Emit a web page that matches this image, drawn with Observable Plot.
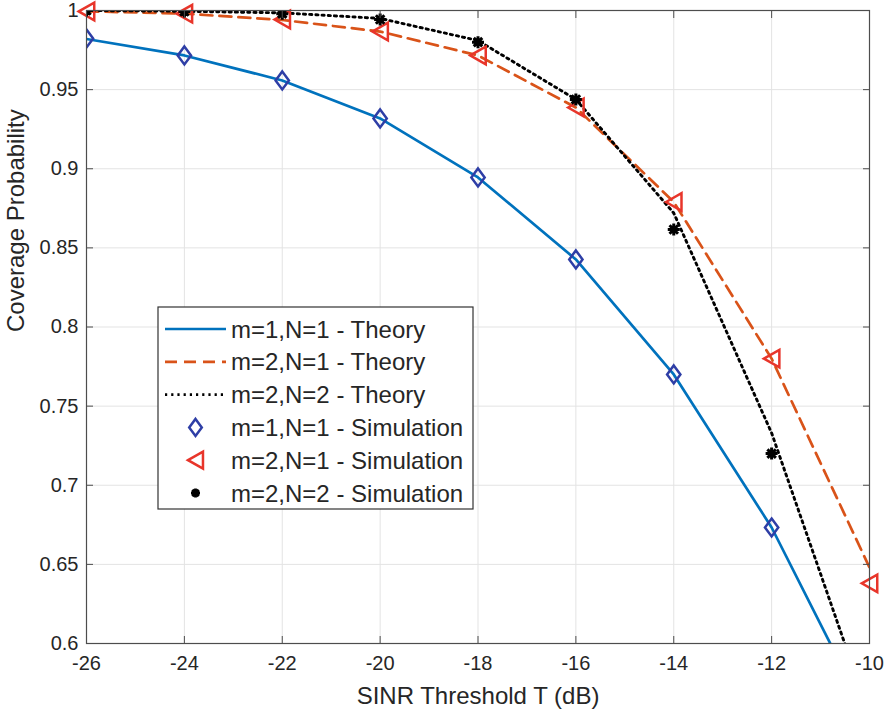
<!DOCTYPE html>
<html>
<head>
<meta charset="utf-8">
<script src="https://cdn.jsdelivr.net/npm/d3@7"></script>
<script src="https://cdn.jsdelivr.net/npm/@observablehq/plot@0.6"></script>
<style>
  html, body { margin: 0; padding: 0; background: #fff; }
  #chart { position: relative; width: 886px; height: 712px; }
</style>
</head>
<body>
<div id="chart"></div>
<script>
// ---- data ----
const thresholds = [-26, -24, -22, -20, -18, -16, -14, -12, -10];
const theory11 = [0.982, 0.9716, 0.9558, 0.9318, 0.8945, 0.8427, 0.770, 0.6733, 0.551];
const theory21 = [0.9995, 0.998, 0.994, 0.9867, 0.9716, 0.9387, 0.879, 0.780, 0.648];
const theory22 = [1.0, 0.9995, 0.9985, 0.995, 0.981, 0.9438, 0.872, 0.733, 0.555];
const sim11 = [0.9823, 0.9716, 0.9558, 0.9318, 0.8945, 0.8427, 0.770, 0.6733, null];
const sim21 = [0.9994, 0.998, 0.9943, 0.9867, 0.9716, 0.9387, 0.879, 0.780, 0.638];
const sim22 = [1.0, 0.9994, 0.998, 0.9943, 0.980, 0.9438, 0.8616, 0.720, null];
const xTicks = [-26, -24, -22, -20, -18, -16, -14, -12, -10];
const yTicks = [0.6, 0.65, 0.7, 0.75, 0.8, 0.85, 0.9, 0.95, 1];
const seriesNames = ["m=1,N=1 - Theory", "m=2,N=1 - Theory", "m=2,N=2 - Theory",
                     "m=1,N=1 - Simulation", "m=2,N=1 - Simulation", "m=2,N=2 - Simulation"];
const xLabel = "SINR Threshold T (dB)";
const yLabel = "Coverage Probability";

// ---- styles ----
const C_BLUE = "#0072BD", C_ORANGE = "#D95319", C_BLACK = "#000000";
const C_DIAMOND = "#2E3EA6", C_TRI = "#E8352A";
const FONT = "'Liberation Sans', Arial, Helvetica, sans-serif";
const DOT_DASH = "2.2,4";
const DASH = "12,7";

// custom MATLAB-like marker symbols
const diamondSym = { draw(ctx, size) { const r = Math.sqrt(size / Math.PI); const w = r * 0.74;
  ctx.moveTo(0, -r); ctx.lineTo(w, 0); ctx.lineTo(0, r); ctx.lineTo(-w, 0); ctx.closePath(); } };
const triLeftSym = { draw(ctx, size) { const r = Math.sqrt(size / Math.PI); const w = r * 0.88;
  ctx.moveTo(-w, 0); ctx.lineTo(w, -r); ctx.lineTo(w, r); ctx.closePath(); } };
const starSym = { draw(ctx, size) { const r = Math.sqrt(size / Math.PI); const d = r * Math.SQRT1_2;
  ctx.moveTo(-r, 0); ctx.lineTo(r, 0); ctx.moveTo(0, -r); ctx.lineTo(0, r);
  ctx.moveTo(-d, -d); ctx.lineTo(d, d); ctx.moveTo(-d, d); ctx.lineTo(d, -d); } };

const toRows = (vals) => thresholds.map((t, i) => ({x: t, y: vals[i]})).filter(d => d.y != null);
const t11 = toRows(theory11), t21 = toRows(theory21), t22 = toRows(theory22);
const s11 = toRows(sim11), s21 = toRows(sim21), s22 = toRows(sim22);

const fmtY = d => String(+d.toFixed(2));
const fmtX = d => String(d);

const plot = Plot.plot({
  width: 886, height: 712,
  marginLeft: 86, marginRight: 17, marginTop: 10, marginBottom: 69,
  style: { fontFamily: FONT, fontSize: "20px", color: "#262626", background: "#fff", overflow: "visible" },
  x: { domain: [-26, -10], label: null },
  y: { domain: [0.6, 1], label: null },
  marks: [
    Plot.gridX(xTicks, { stroke: "#e3e3e3", strokeOpacity: 1, strokeWidth: 1 }),
    Plot.gridY(yTicks, { stroke: "#e3e3e3", strokeOpacity: 1, strokeWidth: 1 }),
    Plot.line(t11, { x: "x", y: "y", stroke: C_BLUE, strokeWidth: 2.7, clip: true }),
    Plot.line(t21, { x: "x", y: "y", stroke: C_ORANGE, strokeWidth: 2.7, strokeDasharray: DASH, clip: true }),
    Plot.line(t22, { x: "x", y: "y", stroke: C_BLACK, strokeWidth: 2.9, strokeDasharray: DOT_DASH, clip: true }),
    Plot.dot(s11, { x: "x", y: "y", symbol: diamondSym, r: 9, stroke: C_DIAMOND, strokeWidth: 2.5, fill: "none", clip: true }),
    Plot.dot(s21, { x: "x", y: "y", symbol: triLeftSym, r: 8.8, stroke: C_TRI, strokeWidth: 2.5, fill: "none", clip: false }),
    Plot.dot(s22, { x: "x", y: "y", symbol: starSym, r: 6, stroke: C_BLACK, strokeWidth: 3, fill: "none", clip: true }),
    Plot.frame({ stroke: "#4d4d4d", strokeWidth: 1.2 }),
    Plot.axisX(xTicks, { anchor: "bottom", tickSize: -7, tickPadding: 19, tickFormat: fmtX, fontSize: 20, stroke: "#4d4d4d", label: null }),
    Plot.axisX(xTicks, { anchor: "top", tickSize: -7, tickFormat: () => "", stroke: "#4d4d4d", label: null }),
    Plot.axisY(yTicks, { anchor: "left", tickSize: -7, tickPadding: 15, tickFormat: fmtY, fontSize: 20, stroke: "#4d4d4d", label: null }),
    Plot.axisY(yTicks, { anchor: "right", tickSize: -7, tickFormat: () => "", stroke: "#4d4d4d", label: null }),
    Plot.text([xLabel], { text: d => d, frameAnchor: "bottom", dy: 53, lineAnchor: "middle", fontSize: 24, fill: "#262626" }),
    Plot.text([yLabel], { text: d => d, frameAnchor: "left", dx: -70, dy: 5, rotate: -90, fontSize: 24, fill: "#262626" })
  ]
});

document.getElementById("chart").appendChild(plot);

// ---- legend (drawn over the plot) ----
const svg = d3.select(plot);
const lg = svg.append("g").attr("font-family", FONT).attr("font-size", 24).attr("fill", "#262626")
  .attr("text-anchor", "start");
const L = { x: 158, y: 307, w: 315, h: 202, row0: 22, dyRow: 32.8, sx0: 165, sx1: 226, tx: 231 };
lg.append("rect").attr("x", L.x).attr("y", L.y).attr("width", L.w).attr("height", L.h)
  .attr("fill", "#fff").attr("stroke", "#333").attr("stroke-width", 1.2);
const lineStyles = [
  { stroke: C_BLUE, w: 2.7, dash: null },
  { stroke: C_ORANGE, w: 2.7, dash: DASH },
  { stroke: C_BLACK, w: 2.9, dash: DOT_DASH }
];
const markerStyles = [
  { sym: diamondSym, r: 8.5, stroke: C_DIAMOND, w: 2.5 },
  { sym: triLeftSym, r: 8.5, stroke: C_TRI, w: 2.5 },
  { sym: starSym, r: 4.5, stroke: C_BLACK, w: 2.8 }
];
seriesNames.forEach((name, i) => {
  const cy = L.y + L.row0 + i * L.dyRow;
  if (i < 3) {
    const s = lineStyles[i];
    lg.append("line").attr("x1", L.sx0).attr("x2", L.sx1).attr("y1", cy).attr("y2", cy)
      .attr("stroke", s.stroke).attr("stroke-width", s.w).attr("stroke-dasharray", s.dash);
  } else {
    const m = markerStyles[i - 3];
    const p = d3.path(); m.sym.draw(p, Math.PI * m.r * m.r);
    lg.append("path").attr("d", p.toString()).attr("transform", `translate(${(L.sx0 + L.sx1) / 2},${cy})`)
      .attr("fill", "none").attr("stroke", m.stroke).attr("stroke-width", m.w);
  }
  lg.append("text").attr("x", L.tx).attr("y", cy).attr("dy", "0.36em").attr("text-anchor", "start").text(name);
});
</script>
</body>
</html>
